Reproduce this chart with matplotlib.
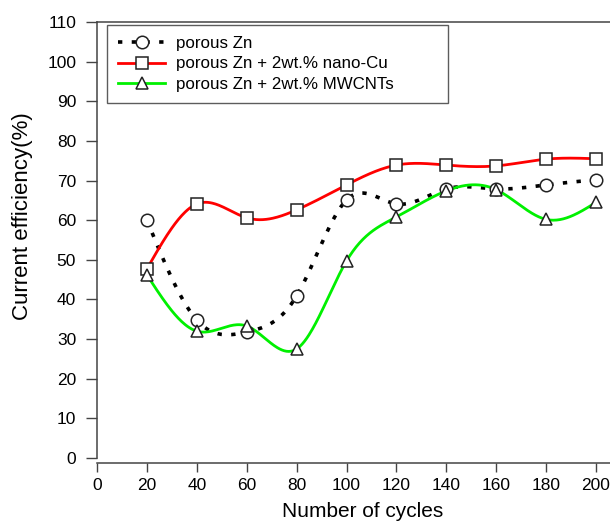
import numpy as np
import matplotlib
matplotlib.use("Agg")
import matplotlib.pyplot as plt
from matplotlib.lines import Line2D

plt.rcParams['font.family'] = ['Liberation Sans', 'DejaVu Sans']

cycles = [20, 40, 60, 80, 100, 120, 140, 160, 180, 200]
porous_zn = [60.0, 34.8, 31.8, 40.9, 65.1, 64.1, 67.9, 67.9, 68.9, 70.2]
nano_cu = [47.7, 64.1, 60.6, 62.6, 68.9, 73.9, 73.9, 73.7, 75.4, 75.5]
mwcnts = [46.2, 32.0, 33.3, 27.5, 49.7, 60.8, 67.4, 67.7, 60.2, 64.5]
labels = ['porous Zn', 'porous Zn + 2wt.% nano-Cu', 'porous Zn + 2wt.% MWCNTs']


def spline(x, y, n=400):
    # natural cubic spline, only for drawing the smooth line
    x = np.asarray(x, float)
    y = np.asarray(y, float)
    k = len(x)
    h = np.diff(x)
    A = np.zeros((k, k))
    b = np.zeros(k)
    A[0, 0] = A[-1, -1] = 1
    for i in range(1, k - 1):
        A[i, i - 1] = h[i - 1]
        A[i, i] = 2 * (h[i - 1] + h[i])
        A[i, i + 1] = h[i]
        b[i] = 3 * ((y[i + 1] - y[i]) / h[i] - (y[i] - y[i - 1]) / h[i - 1])
    c = np.linalg.solve(A, b)
    xs = np.linspace(x[0], x[-1], n)
    idx = np.clip(np.searchsorted(x, xs) - 1, 0, k - 2)
    dx = xs - x[idx]
    bb = (y[idx + 1] - y[idx]) / h[idx] - h[idx] * (2 * c[idx] + c[idx + 1]) / 3
    d = (c[idx + 1] - c[idx]) / (3 * h[idx])
    return xs, y[idx] + bb * dx + c[idx] * dx ** 2 + d * dx ** 3


fig = plt.figure(figsize=(6.10, 5.24), dpi=100)
ax = fig.add_axes([97 / 610, 66 / 524, 513 / 610, 436 / 524])

styles = [
    (porous_zn, 'black', (0, (1.2, 2.6)), 'o', 2.6),
    (nano_cu, '#ff0000', '-', 's', 2.0),
    (mwcnts, '#00f000', '-', '^', 2.0),
]
handles = []
for vals, col, ls, mk, lw in styles:
    xs, ys = spline(cycles, vals)
    ax.plot(xs, ys, color=col, linestyle=ls, linewidth=lw, zorder=2)
    ax.plot(cycles, vals, linestyle='none', marker=mk, markersize=9,
            markerfacecolor='white', markeredgecolor='#222222',
            markeredgewidth=1.1, zorder=3)
    handles.append(Line2D([], [], color=col, linestyle=ls, linewidth=lw,
                          marker=mk, markersize=9, markerfacecolor='white',
                          markeredgecolor='#222222', markeredgewidth=1.1))

ax.set_xlim(0, 205.6)
ax.set_ylim(0, 110)
ax.set_xticks(range(0, 201, 20))
ax.set_yticks(range(0, 111, 10))
ax.tick_params(labelsize=12.5, direction='out', width=1, color='#444444')
ax.tick_params(axis='x', length=6.5, pad=4.5)
ax.tick_params(axis='y', length=8, pad=7)
ax.spines['right'].set_visible(False)
ax.spines['bottom'].set_position(('outward', 3.3))
for s in ['left', 'bottom', 'top']:
    ax.spines[s].set_color('#444444')
    ax.spines[s].set_linewidth(1.1)

ax.set_xlabel('Number of cycles', fontsize=15)
ax.set_ylabel('Current efficiency(%)', fontsize=16)
ax.xaxis.set_label_coords(0.517, -0.1)
ax.yaxis.set_label_coords(-0.125, 0.555)

leg = ax.legend(handles, labels, loc='upper left', mode='expand',
                bbox_to_anchor=(0.0195, 0.0, 0.665, 0.993), borderaxespad=0,
                fontsize=12.2, frameon=True, fancybox=False, handlelength=2.8,
                labelspacing=0.32, borderpad=0.65, handletextpad=0.65)
leg.get_frame().set_edgecolor('#333333')
leg.get_frame().set_linewidth(1.0)

fig.savefig('out.png', dpi=100)
